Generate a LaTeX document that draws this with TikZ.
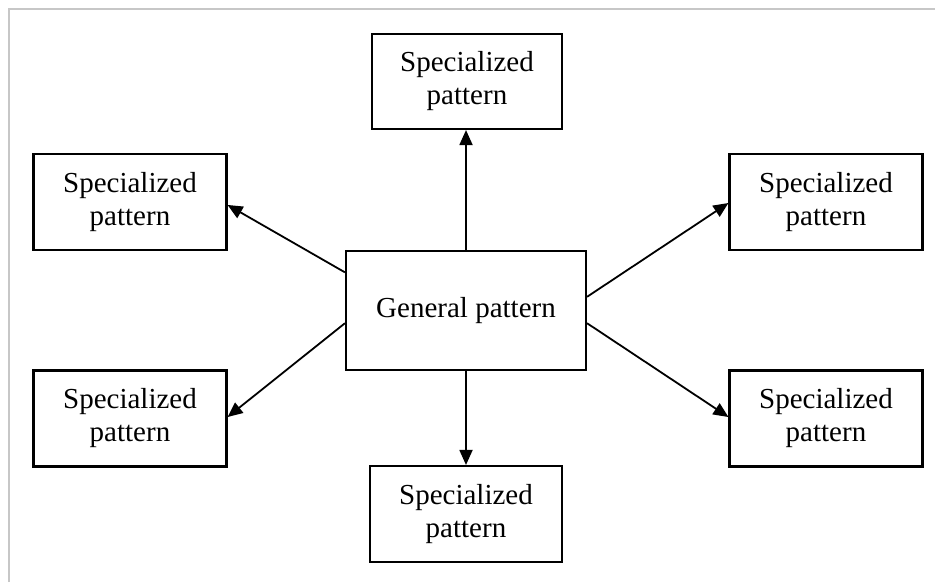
\documentclass[tikz,border=0pt]{standalone}
\usepackage{fontspec}
\setmainfont{Liberation Serif}
\usetikzlibrary{arrows.meta,calc}
\begin{document}
\begin{tikzpicture}[x=1pt,y=-1pt,
  box/.style={draw=black, line width=2.1pt, rectangle, inner sep=0pt, align=center,
    font=\fontsize{29}{33}\selectfont, fill=white},
  spec/.style={box, minimum width=193pt, minimum height=96pt},
  conn/.style={draw=black, line width=1.8pt, -{Triangle[length=15pt,width=13pt]}}]
\useasboundingbox (0,0) rectangle (935,582);
\fill[white] (0,0) rectangle (935,582);
\draw[black!22, line width=1.8pt] (9,582) -- (9,9) -- (935,9);

\node[box, minimum width=240pt, minimum height=119pt] (gen) at (466,310.5) {General pattern};
\node[spec, minimum width=190pt, minimum height=95pt] (top) at (467,81.5) {Specialized\\pattern};
\node[spec] (lt) at (130,202) {Specialized\\pattern};
\node[spec] (lb) at (130,418.5) {Specialized\\pattern};
\node[spec] (rt) at (826,202) {Specialized\\pattern};
\node[spec] (rb) at (826,418.5) {Specialized\\pattern};
\node[spec, minimum width=192pt] (bot) at (466,514) {Specialized\\pattern};

\draw[conn] (gen.north) -- (gen.north |- top.south);
\draw[conn] (gen.south) -- (gen.south |- bot.north);
\draw[conn] ($(gen.north west)!0.185!(gen.south west)$) -- ($(lt.north east)!0.53!(lt.south east)$);
\draw[conn] ($(gen.north west)!0.605!(gen.south west)$) -- ($(lb.north east)!0.485!(lb.south east)$);
\draw[conn] ($(gen.north east)!0.387!(gen.south east)$) -- ($(rt.north west)!0.51!(rt.south west)$);
\draw[conn] ($(gen.north east)!0.605!(gen.south east)$) -- ($(rb.north west)!0.485!(rb.south west)$);
\end{tikzpicture}
\end{document}
